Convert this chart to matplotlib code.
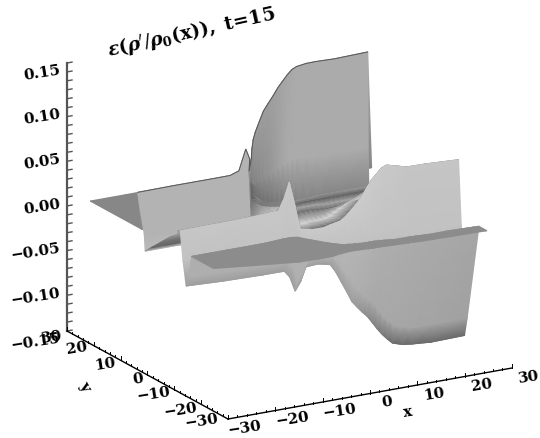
import numpy as np
import matplotlib
matplotlib.use("Agg")
import matplotlib.pyplot as plt

plt.rcParams['mathtext.fontset'] = 'dejavuserif'

# columns of the sheet
x_cols = np.array([-27.5, -20, -12, -8, -7, -6, -5, -4, -2,
                   0, 1, 2, 3, 4, 5, 6, 7, 8, 9, 10, 11, 12, 14, 16, 20, 27])

# back wall: top edge, lower part, foot
y_top = np.array([8, 8, 8, 8, 6.5, 5.7, 6, 8, 10.7,
                  14, 15.5, 17, 18, 18.5, 18.5, 18.5, 18.5, 18.5, 18.5, 18.5, 18.5, 18.5, 18.5, 18.5, 18.5, 18.5])
z_top = np.array([.039, .0393, .0392, .0393, .046, .0707, .058, .0405, .0476,
                  .0515, .0537, .0557, .0611, .0694, .0819, .0894, .0967, .1048, .1112, .1174, .1226, .125,
                  .1265, .1267, .126, .127])
y_low = np.array([5.6, 5.6, 5.6, 5.6, 5.6, 5.6, 5.6, 7.3, 10.8,
                  13.8, 15.1, 16.3, 17.2, 17.8, 18.1, 18.3, 18.3, 18.3, 18.3, 18.3, 18.3, 18.3, 18.3, 18.3, 18.3, 18.3])
z_low = np.array([-.005, -.005, -.005, -.005, -.005, -.005, -.005, 0, .02,
                  .012, .008, .005, .005, .005, .007, .01, .012, .015, .018, .02, .021, .022, .021, .02, .02, .02])
y_bot = np.array([5.3, 5.3, 5.3, 5.3, 5.3, 5.3, 5.3, 7, 10.5,
                  13.5, 14.8, 16, 16.9, 17.5, 17.8, 18, 18, 18, 18, 18, 18, 18, 18, 18, 18, 18])
z_bot = np.array([-.0224, -.0224, -.0224, -.0224, -.0224, -.0224, -.0224, -.015, .009,
                  -.004, -.009, -.0134, -.017, -.0207, -.023, -.0246, -.0256, -.0265, -.027, -.0273, -.0277, -.028,
                  -.029, -.03, -.03, -.0336])

# floor between the two walls
z_m0 = np.array([-.0147, -.0147, -.0147, -.0147, -.0147, -.0147, -.0147, -.002, 0,
                 .005, .006, .007, .008, .0086, .009, .009, .0095, .01, .01, .01, .01, .01, .01, .01, .01, .01])
z_m1 = np.array([-.0013, -.0013, -.0013, -.0013, -.0013, -.0013, -.0013, .006, .01,
                 .012, .013, .014, .014, .014, .014, .014, .014, .014, .014, .014, .014, .014, .014, .014, .014, .014])
z_m2 = np.array([.0037, .0037, .0037, .0037, .0037, .0037, .0037, .006, .01,
                 .012, .012, .012, .012, .012, .0115, .011, .011, .011, .011, .011, .011, .011, .011, .011, .011, .011])
z_m3 = np.array([.0088, .0088, .0088, .0088, .0088, .0088, .0088, .006, .009,
                 .0105, .0105, .0105, .01, .0095, .009, .0087, .0088, .009, .009, .009, .009, .009, .009, .009, .009, .009])
z_m4 = np.array([.017, .017, .017, .017, .017, .017, .017, .006, .003,
                 .004, .0038, .0035, .004, .005, .008, .011, .014, .017, .019, .02, .02, .02, .02, .02, .02, .02])
z_m5 = np.array([.02, .0206, .0237, .027, .03, .03, .03, .004, .004,
                 .007, .0085, .01, .0115, .0134, .0185, .0234, .029, .0355, .042, .0485, .05, .05, .05, .05, .05, .05])

# front wall: top edge and foot
y_g = np.array([-7.8, -8, -9, -10, -10.3, -10.5, -10.7, -11, -12,
                -13, -13.3, -13.5, -13.8, -14, -14.2, -14.3, -14.5, -14.6, -14.7, -14.8, -14.9, -15,
                -15.1, -15.2, -15.3, -15.4])
z_g = np.array([.0217, .0226, .0257, .029, .042, .060, .035, .007, .006,
                .008, .0103, .0119, .0138, .0186, .0247, .0307, .0378, .047, .0553, .0612, .0672, .0697,
                .0669, .064, .0638, .0621])
z_b = np.array([-.0363, -.0378, -.0367, -.0347, -.0418, -.058, -.0485, -.032, -.029,
                -.03, -.0387, -.05, -.0616, -.0735, -.0803, -.0866, -.0923, -.1, -.1079, -.1149, -.1207, -.1259,
                -.1293, -.1305, -.132, -.131])
z_riser = np.array([-.025, -.026, -.025, -.023, -.03, -.045, -.036, -.022, -.02,
                    -.02, -.027, -.036, -.045, -.055, -.061, -.068, -.073, -.08, -.088, -.095, -.1, -.105,
                    -.108, -.11, -.11, -.11])

# flat front plate
y_pb = np.array([-12, -12, -12, -11.5, -11.5, -11.5, -12, -14, -17.5,
                 -20, -20.2, -20.5, -20.8, -21, -21, -21, -21.2, -21.5, -21.8, -22, -22, -22,
                 -22.2, -22.5, -22.5, -23])
y_pf = np.array([-20.2, -22.5, -24.8, -25, -25, -25, -25, -24.6, -24.2,
                 -24, -24.1, -24.2, -24.4, -24.5, -24.5, -24.6, -24.7, -24.8, -24.9, -25, -25.1, -25.2,
                 -25.4, -25.5, -25.7, -26])

z_ticks = [0.15, 0.10, 0.05, 0.00, -0.05, -0.10, -0.15]
z_labels = ['0.15', '0.10', '0.05', '0.00', '\u22120.05', '\u22120.10', '\u22120.15']
xy_ticks = [-30, -20, -10, 0, 10, 20, 30]
xy_labels = ['\u221230', '\u221220', '\u221210', '0', '10', '20', '30']


def project(x, y, z):
    # same oblique view as the original, result in pixels
    x = np.asarray(x, dtype=float)
    y = np.asarray(y, dtype=float)
    z = np.asarray(z, dtype=float)
    X = x + 30
    Y = 30 - y
    return 67 + 4.733 * X + 2.683 * Y, 198 - 0.85 * X + 1.467 * Y - 893.3 * z


def tone(stops, values):
    # grey level along the columns
    return np.interp(x_cols, stops, values)


n = len(x_cols)
one = np.ones(n)

rows = [
    (25.8 * one, 0 * one, 0.53 * one),
    (y_top - 1.5, 0 * one, 0.53 * one),
    (y_top, z_top, tone([-5, -4, 6, 12], [.70, .60, .62, .67])),
    (y_low, z_low, tone([-5, -4, -2, 0, 2, 4, 6, 8, 10], [.70, .5, .44, .46, .5, .54, .58, .63, .67])),
    (y_bot, z_bot, tone([-5, -4, -2, 0, 4, 8, 12], [.73, .6, .38, .38, .42, .46, .5])),
    (3 * one, z_m0, tone([-5, -4, -2, 0, 2, 4], [.40, .72, .78, .72, .62, .6])),
    (-1 * one, z_m1, tone([-5, -4, -2, 0, 2], [.45, .5, .6, .42, .38])),
    (-2.5 * one, z_m2, tone([-5, -4], [.50, .66])),
    (-4 * one, z_m3, tone([-5, -4], [.55, .44])),
    (-7 * one, z_m4, tone([-5, -4], [.60, .84])),
    (y_g + 1, z_m5, tone([-5, -4], [.62, .46])),
    (y_g, z_g, tone([-5, -4], [.62, .46])),
    (y_g, z_g, tone([-12, 8, 16], [.78, .80, .77])),
    (y_g - 1, -0.01 * one, 0.76 * one),
    (y_g - 2.2, z_b, tone([-4, 4, 8, 12], [.62, .62, .52, .42])),
    (y_g - 3.2, z_riser, tone([-12, 2, 8, 27], [.68, .70, .66, .63])),
    (y_pb, 0 * one, tone([-12, 2, 8, 27], [.68, .71, .68, .65])),
    (y_pb, 0 * one, 0.55 * one),
    (y_pf, 0 * one, 0.55 * one),
]

grid_x = np.tile(x_cols, (len(rows), 1))
grid_y = np.array([r[0] for r in rows])
grid_z = np.array([r[1] for r in rows])
shade = np.array([r[2] for r in rows])
px, py = project(grid_x, grid_y, grid_z)

fig = plt.figure(figsize=(5.4, 4.39), dpi=100)
ax = fig.add_axes([0, 0, 1, 1])

# rows run back to front, so drawing order hides what is behind
ax.pcolormesh(px, py, shade, shading='gouraud', cmap='gray', vmin=0, vmax=1)
tx, ty = project(x_cols, y_top, z_top)
ax.plot(tx, ty, color='#555555', lw=0.7)

font = dict(family='DejaVu Serif', weight='bold', fontsize=11)

# z axis
zx, zy = project([-30, -30], [30, 30], [-0.15, 0.15])
ax.plot(zx, zy, color='#555555', lw=1.6)
for v in np.arange(-15, 16):
    tx, ty = project(-30, 30, v / 100)
    ax.plot([tx, tx + 5], [ty, ty - 0.9], color='#555555', lw=1.0)
for v, s in zip(z_ticks, z_labels):
    tx, ty = project(-30, 30, v)
    ax.text(tx - 7, ty + 6, s, ha='right', va='center', rotation=9, rotation_mode='anchor', **font)

# y axis, labels sit a little unevenly in the original
ax.plot(*project([-30, -30], [30, -30], [-0.15, -0.15]), color='black', lw=1.0)
for v in range(-30, 31, 2):
    tx, ty = project(-30, v, -0.15)
    h = 4 if v % 10 == 0 else 2
    ax.plot([tx, tx], [ty, ty - h], color='black', lw=0.7)
y_off_x = [-26, -21, -21, -10, -16, -17, -15]
y_off_y = [1, 5, 4, 3, 3, 2, 5]
for v, s, dx, dy in zip(xy_ticks, xy_labels, y_off_x, y_off_y):
    tx, ty = project(-30, v, -0.15)
    ax.text(tx + dx, ty + dy, s, ha='center', va='center', rotation=9, **font)

# x axis
ax.plot(*project([-30, 30], [-30, -30], [-0.15, -0.15]), color='black', lw=1.0)
for v in range(-30, 31, 2):
    tx, ty = project(v, -30, -0.15)
    h = 4 if v % 10 == 0 else 2
    ax.plot([tx, tx], [ty, ty - h], color='black', lw=0.7)
for v, s in zip(xy_ticks, xy_labels):
    tx, ty = project(v, -30, -0.15)
    ax.text(tx + 17, ty + 8, s, ha='center', va='center', rotation=9, **font)

ax.text(408, 412, 'x', ha='center', va='center', rotation=9, **font)
ax.text(84, 386, 'y', ha='center', va='center', rotation=-60, **font)
ax.text(191, 32,
        r"$\boldsymbol{\epsilon}\mathbf{(}\boldsymbol{\rho}^{\prime}/\boldsymbol{\rho}_{\mathbf{0}}\mathbf{(x)),\ t\!=\!15}$",
        ha='center', va='center', rotation=12.5, fontsize=13.5)

ax.set_xlim(0, 540)
ax.set_ylim(439, 0)
ax.axis('off')

fig.savefig('out.png', dpi=100)
